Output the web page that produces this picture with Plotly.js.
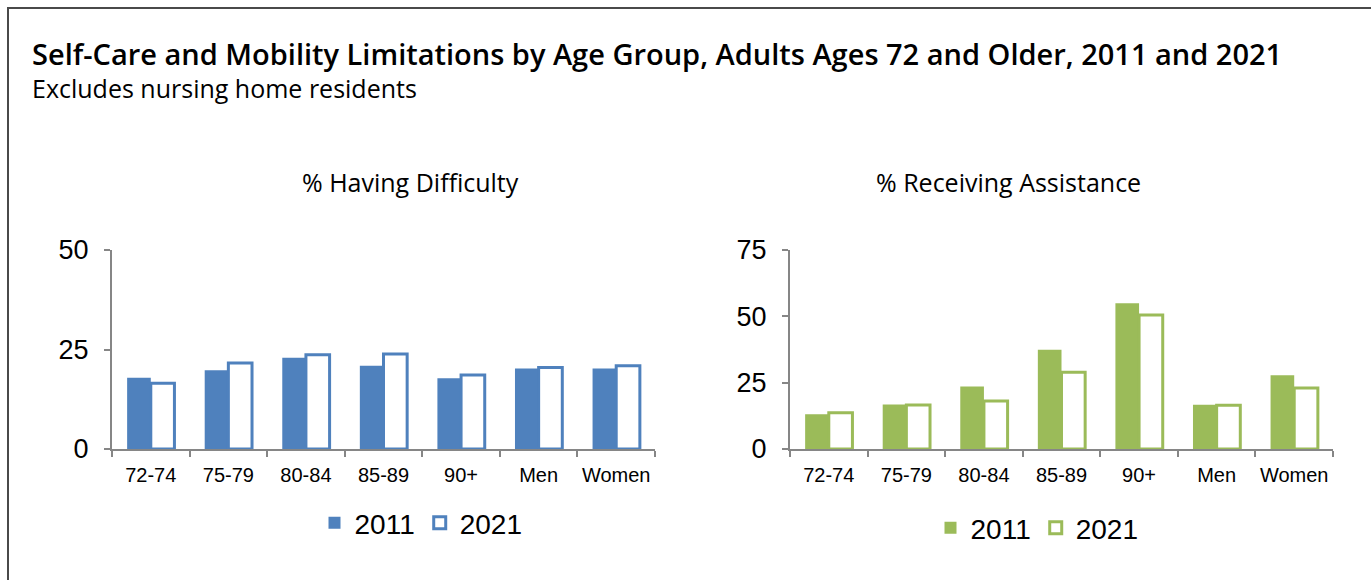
<!DOCTYPE html>
<html>
<head>
<meta charset="utf-8">
<script src="https://cdn.plot.ly/plotly-3.0.1.min.js"></script>
<style>
  html, body { margin: 0; padding: 0; background: #ffffff; overflow: hidden; }
  #chart { width: 1371px; height: 580px; }
  #frame { position: absolute; left: 7px; top: 7px; width: 1400px; height: 600px;
           border-left: 2px solid #4a4a4a; border-top: 2px solid #4a4a4a; pointer-events: none; }
</style>
</head>
<body>
<div id="chart"></div>
<div id="frame"></div>
<script>
// ---- data ----
const categories = ["72-74", "75-79", "80-84", "85-89", "90+", "Men", "Women"];
const difficulty2011 = [17.9, 19.8, 22.9, 20.9, 17.8, 20.2, 20.2];
const difficulty2021 = [16.5, 21.6, 23.7, 23.9, 18.6, 20.5, 20.9];
const assistance2011 = [13.1, 16.8, 23.6, 37.4, 54.9, 16.7, 27.8];
const assistance2021 = [13.7, 16.6, 18.1, 28.9, 50.5, 16.5, 23.0];
const seriesNames = ["2011", "2021"];
const leftTicks = [0, 25, 50];
const rightTicks = [0, 25, 50, 75];

const BLUE = "#4F81BD";
const GREEN = "#9BBB59";
const AXIS = "#868686";
const tickFont = { family: "Liberation Sans, Arial, sans-serif", size: 20, color: "#000" };
const yTickFont = { family: "Liberation Sans, Arial, sans-serif", size: 27, color: "#000" };
const headFont = "Open Sans, DejaVu Sans, sans-serif";

const W = 1371, H = 580;
const px = v => v / W;
const py = v => 1 - v / H;

const traces = [
  { type: "bar", x: categories, y: difficulty2011, name: seriesNames[0], xaxis: "x", yaxis: "y",
    marker: { color: BLUE, line: { width: 0 } }, legend: "legend" },
  { type: "bar", x: categories, y: difficulty2021, name: seriesNames[1], xaxis: "x", yaxis: "y",
    marker: { color: "#ffffff", line: { color: BLUE, width: 3 } }, legend: "legend" },
  { type: "bar", x: categories, y: assistance2011, name: seriesNames[0], xaxis: "x2", yaxis: "y2",
    marker: { color: GREEN, line: { width: 0 } }, legend: "legend2" },
  { type: "bar", x: categories, y: assistance2021, name: seriesNames[1], xaxis: "x2", yaxis: "y2",
    marker: { color: "#ffffff", line: { color: GREEN, width: 3 } }, legend: "legend2" }
];

const xaxisBase = {
  type: "category", showline: true, linecolor: AXIS, linewidth: 2,
  ticks: "outside", tickson: "boundaries", ticklen: 6, tickcolor: AXIS, tickwidth: 2,
  showgrid: false, zeroline: false, tickfont: tickFont, tickangle: 0, fixedrange: true,
  ticklabelstandoff: 7
};
const yaxisBase = {
  showline: true, linecolor: AXIS, linewidth: 2,
  ticks: "outside", ticklen: 6, tickcolor: AXIS, tickwidth: 2,
  showgrid: false, zeroline: false, tickfont: yTickFont, fixedrange: true,
  ticklabelstandoff: 10
};

const legendFont = { family: "Liberation Sans, Arial, sans-serif", size: 28, color: "#000" };

const layout = {
  width: W, height: H,
  margin: { l: 0, r: 0, t: 0, b: 0 },
  paper_bgcolor: "#ffffff", plot_bgcolor: "#ffffff",
  barmode: "group", bargap: 0.39, bargroupgap: 0,
  showlegend: true,
  xaxis: Object.assign({}, xaxisBase, { domain: [px(112), px(655)], anchor: "y" }),
  yaxis: Object.assign({}, yaxisBase, { domain: [py(449), py(250)], range: [0, 50], tickvals: leftTicks, anchor: "x" }),
  xaxis2: Object.assign({}, xaxisBase, { domain: [px(790), px(1333)], anchor: "y2" }),
  yaxis2: Object.assign({}, yaxisBase, { domain: [py(449), py(250)], range: [0, 75], tickvals: rightTicks, anchor: "x2" }),
  legend: {
    orientation: "h", x: px(421), xanchor: "center", y: py(523), yanchor: "middle",
    font: legendFont, itemwidth: 30, traceorder: "normal", bgcolor: "rgba(0,0,0,0)"
  },
  legend2: {
    orientation: "h", x: px(1037), xanchor: "center", y: py(528), yanchor: "middle",
    font: legendFont, itemwidth: 30, traceorder: "normal", bgcolor: "rgba(0,0,0,0)"
  },
  annotations: [
    { text: "Self-Care and Mobility Limitations by Age Group, Adults Ages 72 and Older, 2011 and 2021",
      xref: "paper", yref: "paper", x: px(30), y: py(54), xanchor: "left", yanchor: "middle",
      showarrow: false, font: { family: headFont, size: 29, weight: 600, color: "#000" } },
    { text: "Excludes nursing home residents",
      xref: "paper", yref: "paper", x: px(30), y: py(88), xanchor: "left", yanchor: "middle",
      showarrow: false, font: { family: headFont, size: 25, color: "#000" } },
    { text: "% Having Difficulty",
      xref: "paper", yref: "paper", x: px(410), y: py(182), xanchor: "center", yanchor: "middle",
      showarrow: false, font: { family: headFont, size: 25, color: "#000" } },
    { text: "% Receiving Assistance",
      xref: "paper", yref: "paper", x: px(1008), y: py(182), xanchor: "center", yanchor: "middle",
      showarrow: false, font: { family: headFont, size: 25, color: "#000" } }
  ]
};

Plotly.newPlot("chart", traces, layout, { staticPlot: true, displayModeBar: false });
</script>
</body>
</html>
